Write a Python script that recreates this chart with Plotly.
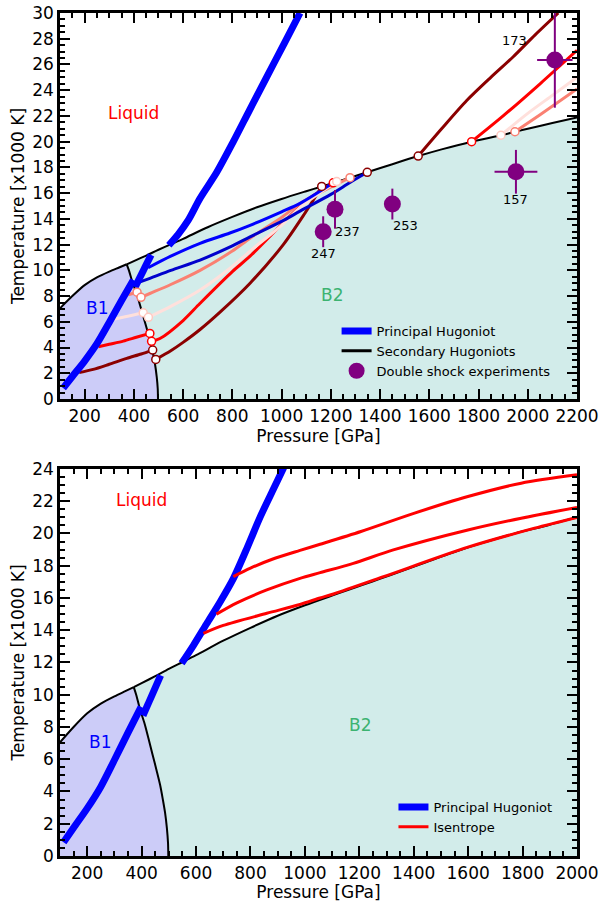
import plotly.graph_objects as go

# ---------------- data ----------------
# phase boundaries (P in GPa, T in 1000 K)
melt_b1_p = [100, 150, 200, 250, 300, 340, 371]
melt_b1_t = [7.05, 8.0, 8.85, 9.45, 9.9, 10.22, 10.47]
melt_b2_p = [371, 400, 450, 500, 547, 600, 700, 800, 900, 1000, 1100, 1163, 1210, 1278,
             1348, 1450, 1555, 1650, 1772, 1891, 1948, 2000, 2100, 2200]
melt_b2_t = [10.47, 10.72, 11.15, 11.6, 12.0, 12.45, 13.35, 14.15, 14.9, 15.55, 16.15, 16.52,
             16.8, 17.2, 17.62, 18.25, 18.88, 19.4, 20.0, 20.5, 20.77, 21.0, 21.45, 21.89]
b1b2_p = [371, 380, 394, 411, 425, 440, 455, 468, 478, 486, 493, 497, 498]
b1b2_t = [10.47, 10.0, 9.1, 8.2, 7.3, 6.3, 5.3, 4.4, 3.5, 2.7, 1.7, 0.8, 0.0]

# principal Hugoniot (three branches; top and bottom panel readings)
hug1_p = [113, 150, 200, 250, 300, 350, 398]
hug1_t = [0.85, 1.75, 2.95, 4.3, 5.95, 7.65, 9.25]
hug2_p = [405, 470]
hug2_t = [8.7, 11.2]
hugt3_p = [542, 580, 621, 669, 736, 804, 870, 940, 1010, 1075]
hugt3_t = [11.95, 12.8, 13.9, 15.6, 17.6, 20.0, 22.46, 25.04, 27.6, 30.0]
hugb3_p = [547, 590, 639, 690, 737, 790, 835, 880, 921, 950]
hugb3_t = [11.95, 13.05, 14.4, 15.8, 17.2, 19.2, 21.0, 22.6, 24.05, 25.1]

# secondary Hugoniots: B1 branch, B2 branch, liquid branch
dr_b1_p = [178, 235, 300, 371, 430, 476.5]
dr_b1_t = [2.05, 2.3, 2.7, 3.16, 3.5, 3.8]
dr_b2_p = [489, 550, 600, 669, 750, 872, 1007, 1090, 1163]
dr_b2_t = [3.08, 3.75, 4.4, 5.4, 6.75, 9.0, 12.0, 14.3, 16.52]
dr_lq_p = [1555, 1650, 1752, 1850, 1941, 2030, 2124]
dr_lq_t = [18.88, 21.0, 23.2, 25.0, 26.6, 28.3, 30.0]

rd_b1_p = [256, 300, 357, 410, 465]
rd_b1_t = [4.06, 4.25, 4.5, 4.8, 5.1]
rd_b2_p = [472, 506, 600, 669, 800, 872, 1007, 1100, 1210]
rd_b2_t = [4.48, 4.7, 6.1, 7.44, 9.9, 11.1, 13.7, 15.4, 16.8]
rd_lq_p = [1772, 1900, 2050, 2200]
rd_lq_t = [20.0, 22.0, 24.5, 27.1]

mr_b1_p = [316, 380, 438]
mr_b1_t = [6.2, 6.45, 6.7]
mr_b2_p = [459, 550, 669, 800, 872, 1000, 1075, 1224]
mr_b2_t = [6.35, 7.2, 8.47, 10.3, 11.5, 13.5, 14.9, 16.9]
mr_lq_p = [1891, 2000, 2100, 2200]
mr_lq_t = [20.5, 22.2, 23.6, 25.0]

sa_b1_p = [377, 413]
sa_b1_t = [8.1, 8.3]
sa_b2_p = [429, 465, 550, 669, 800, 872, 1000, 1075, 1278]
sa_b2_t = [7.9, 8.2, 8.9, 10.0, 11.5, 12.5, 14.1, 15.2, 17.2]
sa_lq_p = [1948, 2050, 2200]
sa_lq_t = [20.77, 22.1, 24.1]

bu_p = [458, 550, 669, 790, 872, 1000, 1075, 1210]
bu_t = [10.2, 11.1, 12.1, 12.9, 13.5, 14.55, 15.2, 16.8]
bl_p = [411, 465, 550, 669, 800, 872, 1000, 1075, 1200, 1278, 1348]
bl_t = [9.0, 9.38, 10.0, 10.8, 11.9, 12.6, 13.8, 14.6, 15.9, 16.83, 17.62]

# double shock experiments
exp_p = [1169, 1217, 1450, 1952, 2110]
exp_t = [13.0, 14.74, 15.15, 17.66, 26.34]
exp_dt = [1.2, 1.5, 1.2, 1.7, 3.7]
exp_dp = [0, 0, 0, 87, 72]
exp_labels = ["247", "237", "253", "157", "173"]

# isentropes (bottom panel)
is1_p = [737, 800, 880, 982, 1056, 1206, 1403, 1599, 1795, 2000]
is1_t = [17.33, 17.85, 18.4, 18.95, 19.33, 20.12, 21.26, 22.29, 23.12, 23.64]
is2_p = [675, 750, 860, 982, 1056, 1178, 1325, 1599, 1795, 2000]
is2_t = [15.0, 15.7, 16.5, 17.22, 17.57, 18.15, 18.98, 20.22, 20.95, 21.62]
is3_p = [627, 700, 860, 982, 1056, 1105, 1289, 1599, 1844, 2000]
is3_t = [13.81, 14.3, 15.05, 15.6, 16.0, 16.25, 17.32, 19.15, 20.33, 21.0]

x_ticks_top = list(range(200, 2201, 200))
x_ticks_bot = list(range(200, 2001, 200))

# ---------------- styles ----------------
FONT = "DejaVu Sans"
C_B1 = "rgb(204,204,248)"
C_B2 = "rgb(210,236,234)"
BLUE = "#0000ff"
PURPLE = "#800080"

fig = go.Figure()


def add_panel(xa, ya):
    fig.add_trace(go.Scatter(
        x=[melt_b1_p[0]] + melt_b1_p + b1b2_p[1:] + [melt_b1_p[0]],
        y=[0] + melt_b1_t + b1b2_t[1:] + [0],
        fill="toself", fillcolor=C_B1, mode="none", showlegend=False,
        xaxis=xa, yaxis=ya, hoverinfo="skip"))
    fig.add_trace(go.Scatter(
        x=b1b2_p + [melt_b2_p[-1]] + melt_b2_p[::-1],
        y=b1b2_t + [0] + melt_b2_t[::-1],
        fill="toself", fillcolor=C_B2, mode="none", showlegend=False,
        xaxis=xa, yaxis=ya, hoverinfo="skip"))
    for px, py in [(melt_b1_p, melt_b1_t), (melt_b2_p, melt_b2_t), (b1b2_p, b1b2_t)]:
        fig.add_trace(go.Scatter(x=px, y=py, mode="lines", line=dict(color="black", width=2),
                                 line_shape="spline", line_smoothing=0.8, showlegend=False,
                                 xaxis=xa, yaxis=ya, hoverinfo="skip"))


add_panel("x", "y")
add_panel("x2", "y2")

# ---- top panel: secondary Hugoniots ----
sec = [
    ("#8b0000", dr_b1_p, dr_b1_t, dr_b2_p, dr_b2_t, dr_lq_p, dr_lq_t),
    ("#ff0000", rd_b1_p, rd_b1_t, rd_b2_p, rd_b2_t, rd_lq_p, rd_lq_t),
    ("#fa8072", sa_b1_p, sa_b1_t, sa_b2_p, sa_b2_t, sa_lq_p, sa_lq_t),
    ("#ffe0dc", mr_b1_p, mr_b1_t, mr_b2_p, mr_b2_t, mr_lq_p, mr_lq_t),
]
for col, p1, t1, p2, t2, p3, t3 in sec:
    for px, py in [(p1, t1), (p2, t2), (p3, t3)]:
        fig.add_trace(go.Scatter(x=px, y=py, mode="lines", line=dict(color=col, width=3),
                                 line_shape="spline", line_smoothing=0.8, showlegend=False,
                                 xaxis="x", yaxis="y"))
for col, px, py in [("#0000cd", bl_p, bl_t), (BLUE, bu_p, bu_t)]:
    fig.add_trace(go.Scatter(x=px, y=py, mode="lines", line=dict(color=col, width=3),
                             line_shape="spline", line_smoothing=0.8, showlegend=False,
                             xaxis="x", yaxis="y"))

# principal Hugoniot, both panels
for xa, ya, lg, p3, t3 in [("x", "y", "legend", hugt3_p, hugt3_t),
                           ("x2", "y2", "legend2", hugb3_p, hugb3_t)]:
    fig.add_trace(go.Scatter(
        x=hug1_p + [None] + hug2_p + [None] + p3,
        y=hug1_t + [None] + hug2_t + [None] + t3,
        mode="lines", line=dict(color=BLUE, width=7), line_shape="spline", line_smoothing=0.8,
        name="Principal Hugoniot", legend=lg, xaxis=xa, yaxis=ya))

# transition circles
for col, p1, t1, p2, t2, p3, t3 in sec:
    edge = "#ffc8c0" if col == "#ffe0dc" else col
    fig.add_trace(go.Scatter(
        x=[p1[-1], p2[0], p2[-1], p3[0]], y=[t1[-1], t2[0], t2[-1], t3[0]],
        mode="markers", marker=dict(size=8, color="white", line=dict(color=edge, width=1.5)),
        showlegend=False, xaxis="x", yaxis="y"))
fig.add_trace(go.Scatter(
    x=[bl_p[-1]], y=[bl_t[-1]], mode="markers",
    marker=dict(size=8, color="white", line=dict(color="#8b0000", width=1.5)),
    showlegend=False, xaxis="x", yaxis="y"))

fig.add_trace(go.Scatter(x=[None], y=[None], mode="lines", line=dict(color="black", width=3),
                         name="Secondary Hugoniots", legend="legend", xaxis="x", yaxis="y"))

# experiments
fig.add_trace(go.Scatter(
    x=exp_p, y=exp_t, mode="markers", name="Double shock experiments", legend="legend",
    marker=dict(size=17, color=PURPLE),
    error_y=dict(type="data", array=exp_dt, color=PURPLE, thickness=2, width=0),
    error_x=dict(type="data", array=exp_dp, color=PURPLE, thickness=2, width=0),
    xaxis="x", yaxis="y"))

label_shift = [(0, -22), (13, -22), (13, -21), (0, -28), (-40, 20)]
annotations = []
for p, t, lab, (dx, dy) in zip(exp_p, exp_t, exp_labels, label_shift):
    annotations.append(dict(x=p, y=t, xref="x", yref="y", text=lab, showarrow=False,
                            xshift=dx, yshift=dy, font=dict(size=13, color="black", family=FONT)))

# isentropes
for i, (px, py) in enumerate([(is1_p, is1_t), (is2_p, is2_t), (is3_p, is3_t)]):
    fig.add_trace(go.Scatter(x=px, y=py, mode="lines", line=dict(color="#ff0000", width=3),
                             line_shape="spline", line_smoothing=0.8, name="Isentrope",
                             legend="legend2", showlegend=(i == 0), xaxis="x2", yaxis="y2"))

# phase labels
for xr, yr, lq, b1, b2 in [("x", "y", (398, 22.2), (249, 7.1), (1203, 8.1)),
                           ("x2", "y2", (400, 22.1), (247, 7.1), (1203, 8.1))]:
    for (px, py), txt, col in [(lq, "Liquid", "#ff0000"), (b1, "B1", "#0000ff"), (b2, "B2", "#3cb371")]:
        annotations.append(dict(x=px, y=py, xref=xr, yref=yr, text=txt, showarrow=False,
                                font=dict(size=17, color=col, family=FONT)))

# dummy traces so the mirror (tick-only) axes are drawn
for xa, ya in [("x3", "y"), ("x", "y3"), ("x4", "y2"), ("x2", "y4")]:
    fig.add_trace(go.Scatter(x=[None], y=[None], mode="markers", showlegend=False,
                             xaxis=xa, yaxis=ya, hoverinfo="skip"))

tickfont = dict(size=17, color="black", family=FONT)
ticks_common = dict(ticks="inside", ticklen=10, tickwidth=2, tickcolor="black",
                    showgrid=False, zeroline=False, automargin=False)
main_common = dict(showline=True, linecolor="black", linewidth=2.5, mirror=True,
                   tickfont=tickfont, title_font=dict(size=17, color="black", family=FONT),
                   **ticks_common)
mirror_common = dict(showline=False, showticklabels=False, **ticks_common)
minor_x = dict(dtick=50, tick0=100, ticks="inside", ticklen=5, tickwidth=1.5, tickcolor="black")
minor_y = dict(dtick=0.5, tick0=0, ticks="inside", ticklen=5, tickwidth=1.5, tickcolor="black")

fig.update_layout(
    width=600, height=902,
    margin=dict(l=60, r=23, t=13, b=46),
    plot_bgcolor="white", paper_bgcolor="white",
    font=dict(family=FONT, color="black"),
    showlegend=True,
    xaxis=dict(domain=[0, 1], anchor="y", range=[100, 2200], tickvals=x_ticks_top, minor=minor_x,
               title=dict(text="Pressure [GPa]", standoff=2), **main_common),
    yaxis=dict(domain=[0.5421, 1], anchor="x", range=[0, 30], dtick=2, tick0=0, minor=minor_y,
               title=dict(text="Temperature [x1000 K]", standoff=4), **main_common),
    xaxis3=dict(overlaying="x", side="top", anchor="y", range=[100, 2200], tickvals=x_ticks_top,
                minor=minor_x, **mirror_common),
    yaxis3=dict(overlaying="y", side="right", anchor="x", range=[0, 30], dtick=2, tick0=0,
                minor=minor_y, **mirror_common),
    xaxis2=dict(domain=[0, 1], anchor="y2", range=[100, 2000], tickvals=x_ticks_bot, minor=minor_x,
                title=dict(text="Pressure [GPa]", standoff=2), **main_common),
    yaxis2=dict(domain=[0, 0.4591], anchor="x2", range=[0, 24], dtick=2, tick0=0, minor=minor_y,
                title=dict(text="Temperature [x1000 K]", standoff=4), **main_common),
    xaxis4=dict(overlaying="x2", side="top", anchor="y2", range=[100, 2000], tickvals=x_ticks_bot,
                minor=minor_x, **mirror_common),
    yaxis4=dict(overlaying="y2", side="right", anchor="x2", range=[0, 24], dtick=2, tick0=0,
                minor=minor_y, **mirror_common),
    legend=dict(x=0.535, y=0.6406, xanchor="left", yanchor="top", bgcolor="rgba(0,0,0,0)",
                font=dict(size=13, family=FONT, color="black"), itemsizing="trace"),
    legend2=dict(x=0.645, y=0.0759, xanchor="left", yanchor="top", bgcolor="rgba(0,0,0,0)",
                 font=dict(size=13, family=FONT, color="black")),
    annotations=annotations,
)

fig.write_html("out.html")
